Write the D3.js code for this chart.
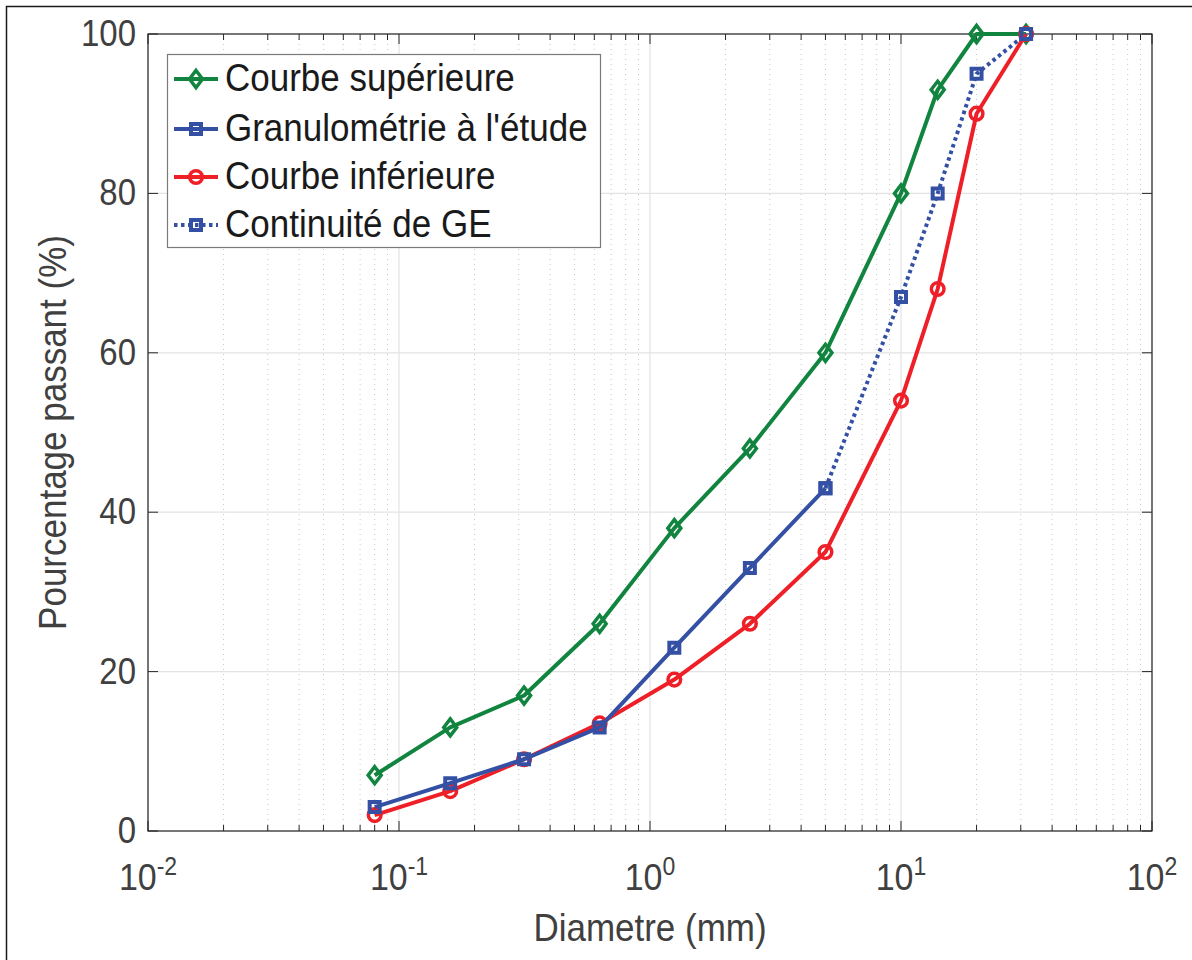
<!DOCTYPE html>
<html><head><meta charset="utf-8">
<script src="https://cdn.jsdelivr.net/npm/d3@7"></script>
<style>body{margin:0;background:#fff}svg{display:block}text{font-family:"Liberation Sans",Arial,sans-serif}</style>
</head><body>
<script>
const sieves = [0.08, 0.16, 0.315, 0.63, 1.25, 2.5, 5, 10, 14, 20, 31.5];
const upper = [7, 13, 17, 26, 38, 48, 60, 80, 93, 100, 100];
const studyX = [0.08, 0.16, 0.315, 0.63, 1.25, 2.5, 5];
const study = [3, 6, 9, 13, 23, 33, 43];
const lower = [2, 5, 9, 13.5, 19, 26, 35, 54, 68, 90, 100];
const contX = [5, 10, 14, 20, 31.5];
const cont = [43, 67, 80, 95, 100];
const yTicks = [0, 20, 40, 60, 80, 100];
const xExp = [-2, -1, 0, 1, 2];
const legendLabels = ["Courbe supérieure", "Granulométrie à l'étude", "Courbe inférieure", "Continuité de GE"];

const W = 1192, H = 960;
const L = 148, R = 1152, T = 34, B = 831;
const GREEN = "#11853f", BLUE = "#3450a4", RED = "#ee1f26";

const svg = d3.select("body").append("svg").attr("width", W).attr("height", H);
svg.append("rect").attr("x", 6.5).attr("y", 6.5).attr("width", W + 10).attr("height", H + 10)
  .attr("fill", "#fff").attr("stroke", "#1a1a1a").attr("stroke-width", 1.5);

const x = d3.scaleLog().domain([1e-2, 1e2]).range([L, R]);
const y = d3.scaleLinear().domain([0, 100]).range([B, T]);

const minor = [];
xExp.slice(0, -1).forEach(e => { for (let k = 2; k <= 9; k++) minor.push(k * Math.pow(10, e)); });
const major = xExp.map(e => Math.pow(10, e));

const g = svg.append("g");
g.selectAll(".mg").data(minor).join("line")
  .attr("x1", d => x(d)).attr("x2", d => x(d)).attr("y1", T).attr("y2", B)
  .attr("stroke", "#c8c8c8").attr("stroke-width", 1).attr("stroke-dasharray", "1,4");
g.selectAll(".Mg").data(major).join("line")
  .attr("x1", d => x(d)).attr("x2", d => x(d)).attr("y1", T).attr("y2", B)
  .attr("stroke", "#e3e3e3").attr("stroke-width", 1.2);
g.selectAll(".hg").data(yTicks).join("line")
  .attr("x1", L).attr("x2", R).attr("y1", d => y(d)).attr("y2", d => y(d))
  .attr("stroke", "#e3e3e3").attr("stroke-width", 1.2);

const axCol = "#262626";
function ticksX(yPos, dir) {
  svg.append("g").selectAll("line").data(major.concat(minor)).join("line")
    .attr("x1", d => x(d)).attr("x2", d => x(d)).attr("y1", yPos)
    .attr("y2", d => yPos + dir * (major.includes(d) ? 10 : 6))
    .attr("stroke", axCol).attr("stroke-width", 1);
}
ticksX(B, -1); ticksX(T, 1);
function ticksY(xPos, dir) {
  svg.append("g").selectAll("line").data(yTicks).join("line")
    .attr("y1", d => y(d)).attr("y2", d => y(d)).attr("x1", xPos).attr("x2", xPos + dir * 10)
    .attr("stroke", axCol).attr("stroke-width", 1);
}
ticksY(L, 1); ticksY(R, -1);
svg.append("rect").attr("x", L).attr("y", T).attr("width", R - L).attr("height", B - T)
  .attr("fill", "none").attr("stroke", axCol).attr("stroke-width", 1.2);

const labCol = "#404040";
svg.append("g").selectAll("text").data(yTicks).join("text")
  .attr("transform", d => `translate(${L - 12},${y(d) + 12}) scale(1,1.1)`)
  .attr("text-anchor", "end").attr("font-size", 33).attr("fill", labCol).text(d => d);
const xl = svg.append("g").selectAll("text").data(xExp).join("text")
  .attr("transform", e => `translate(${x(Math.pow(10, e))},${890}) scale(1,1.1)`)
  .attr("text-anchor", "middle").attr("font-size", 34).attr("fill", labCol);
xl.append("tspan").text("10");
xl.append("tspan").attr("dy", -14).attr("font-size", 23).text(e => e);

svg.append("text").attr("transform", `translate(${(L + R) / 2},${941}) scale(1,1.1)`)
  .attr("text-anchor", "middle").attr("font-size", 35).attr("fill", labCol).text("Diametre (mm)");
svg.append("text").attr("transform", `translate(${66},${(T + B) / 2}) rotate(-90) scale(1,1.1)`)
  .attr("text-anchor", "middle").attr("font-size", 35).attr("fill", labCol).text("Pourcentage passant (%)");

const line = d3.line().x(d => x(d[0])).y(d => y(d[1]));
function markerPath(marker) {
  if (marker === "diamond") return "M0,-8.5L6.5,0L0,8.5L-6.5,0Z";
  if (marker === "square") return "M-5,-5H5V5H-5Z";
  return d3.symbol().type(d3.symbolCircle).size(Math.PI * 40)();
}
function drawSeries(xs, ys, color, marker, dashed) {
  const pts = xs.map((v, i) => [v, ys[i]]);
  svg.append("path").datum(pts).attr("d", line).attr("fill", "none").attr("stroke", color)
    .attr("stroke-width", 4).attr("stroke-linejoin", "round")
    .attr("stroke-dasharray", dashed ? "3.5,3.5" : null);
  svg.append("g").selectAll("path").data(pts).join("path")
    .attr("transform", d => `translate(${x(d[0])},${y(d[1])})`)
    .attr("d", markerPath(marker))
    .attr("fill", "none").attr("stroke", color).attr("stroke-width", marker === "square" ? 4 : 3.5);
}
drawSeries(sieves, upper, GREEN, "diamond", false);
drawSeries(sieves, lower, RED, "circle", false);
drawSeries(studyX, study, BLUE, "square", false);
drawSeries(contX, cont, BLUE, "square", true);

const lg = svg.append("g");
lg.append("rect").attr("x", 167.5).attr("y", 54.5).attr("width", 433).attr("height", 193)
  .attr("fill", "#fff").attr("stroke", "#7a7a7a").attr("stroke-width", 1.2);
const legColors = [GREEN, BLUE, RED, BLUE];
const legMarkers = ["diamond", "square", "circle", "square"];
const legY = [79, 129, 177, 225];
legendLabels.forEach((t, i) => {
  lg.append("line").attr("x1", 174).attr("x2", 218).attr("y1", legY[i]).attr("y2", legY[i])
    .attr("stroke", legColors[i]).attr("stroke-width", 4)
    .attr("stroke-dasharray", i === 3 ? "3.5,3.5" : null);
  lg.append("path").attr("transform", `translate(196,${legY[i]})`).attr("d", markerPath(legMarkers[i]))
    .attr("fill", "none").attr("stroke", legColors[i]).attr("stroke-width", legMarkers[i] === "square" ? 4 : 3.5);
  lg.append("text").attr("transform", `translate(225,${legY[i] + 12}) scale(1,1.1)`)
    .attr("font-size", 35).attr("fill", "#1a1a1a").text(t);
});
</script>
</body></html>
